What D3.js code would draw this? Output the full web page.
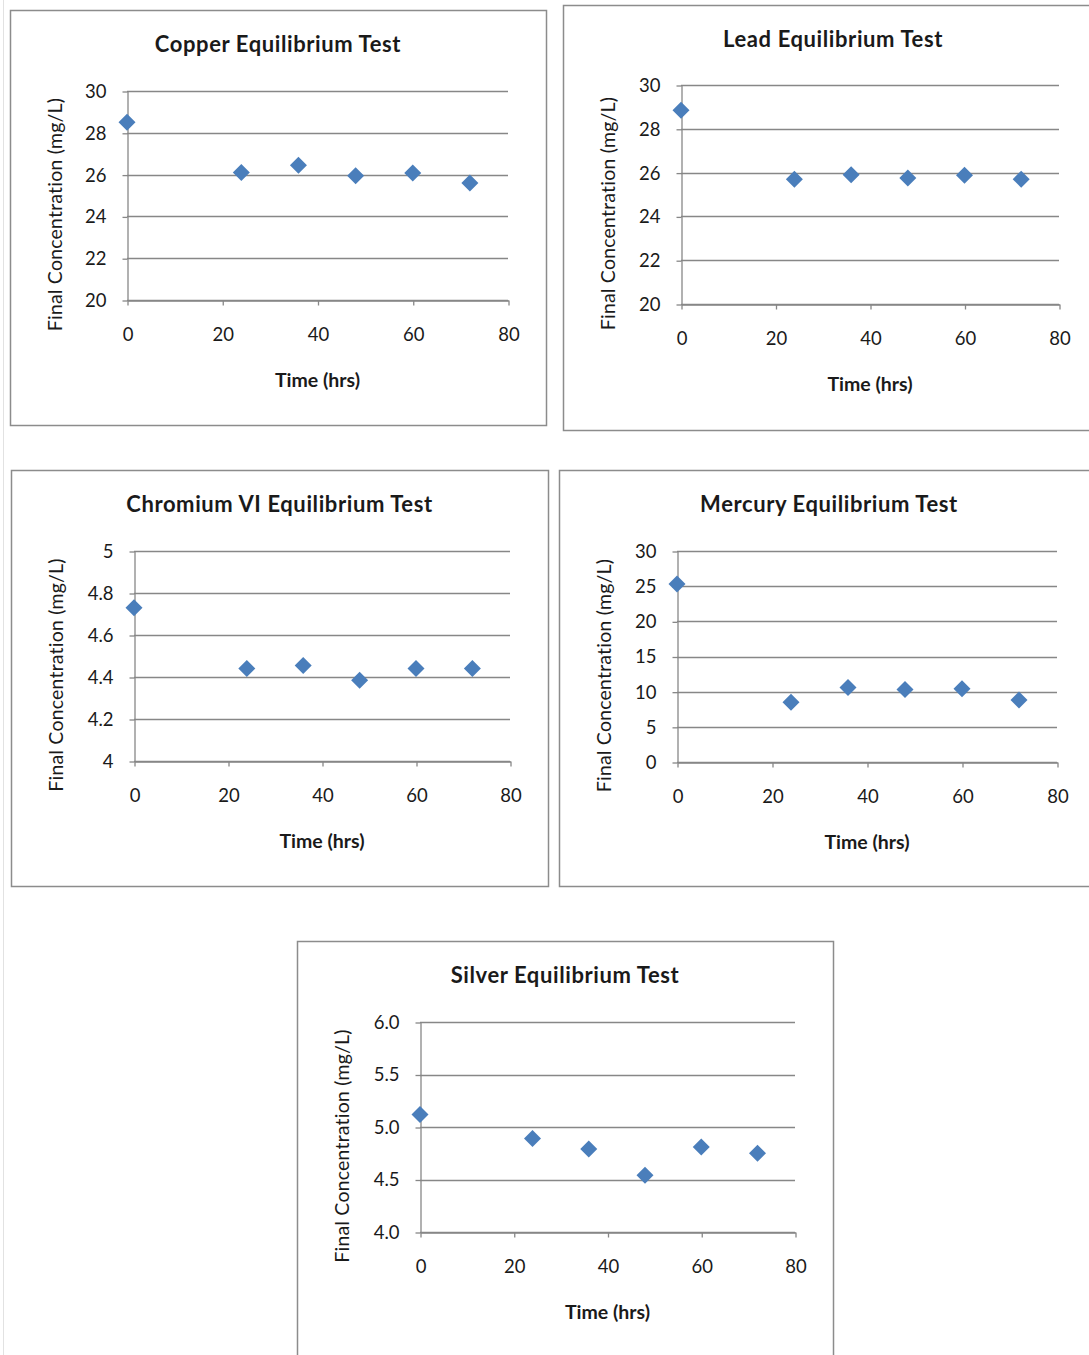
<!DOCTYPE html>
<html>
<head>
<meta charset="utf-8">
<script src="https://cdn.jsdelivr.net/npm/d3@7"></script>
<style>
    body { margin: 0; background: #fff; }
    svg text { font-family: Lato, "Open Sans", sans-serif; fill: #1a1a1a; }
    .grid line { stroke: #878787; stroke-width: 1.3; }
    .axis path, .axis line { stroke: #878787; stroke-width: 1.3; }
</style>
</head>
<body>
<div id="chart"></div>
<script>
// hours sampled in every test
var hours = [0, 24, 36, 48, 60, 72];
var xTicks = [0, 20, 40, 60, 80];

var copperValues = [28.5, 26.1, 26.45, 25.95, 26.08, 25.6];
var leadValues = [28.85, 25.7, 25.9, 25.75, 25.88, 25.7];
var chromiumValues = [4.73, 4.44, 4.455, 4.385, 4.44, 4.44];
var mercuryValues = [25.3, 8.5, 10.6, 10.3, 10.4, 8.8];
var silverValues = [5.12, 4.89, 4.79, 4.54, 4.81, 4.75];

var copperTicks = [20, 22, 24, 26, 28, 30];
var leadTicks = [20, 22, 24, 26, 28, 30];
var chromiumTicks = [4, 4.2, 4.4, 4.6, 4.8, 5];
var mercuryTicks = [0, 5, 10, 15, 20, 25, 30];
var silverTicks = [4.0, 4.5, 5.0, 5.5, 6.0];

var titles = ["Copper Equilibrium Test", "Lead Equilibrium Test", "Chromium VI Equilibrium Test",
    "Mercury Equilibrium Test", "Silver Equilibrium Test"];

document.addEventListener("DOMContentLoaded", function() {

    var width = 1089, height = 1355;

    var svg = d3.select("#chart").append("svg")
        .attr("width", width)
        .attr("height", height);

    // faint page edge on the left
    svg.append("line")
        .attr("x1", 3.5).attr("x2", 3.5)
        .attr("y1", 0).attr("y2", height)
        .style("stroke", "#e2e2e2");

    var panels = [
        { values: copperValues, ticks: copperTicks, fmt: d3.format("d"),
          frame: [10, 10, 536, 415], plot: [127, 508, 91, 300] },
        { values: leadValues, ticks: leadTicks, fmt: d3.format("d"),
          frame: [563, 5, 540, 425], plot: [681, 1059, 85, 304] },
        { values: chromiumValues, ticks: chromiumTicks, fmt: function(d) { return String(+d.toFixed(1)); },
          frame: [11, 470, 537, 416], plot: [134, 510, 551, 761] },
        { values: mercuryValues, ticks: mercuryTicks, fmt: d3.format("d"),
          frame: [559, 470, 540, 416], plot: [677, 1057, 551, 762] },
        { values: silverValues, ticks: silverTicks, fmt: d3.format(".1f"),
          frame: [297, 941, 536, 430], plot: [420, 795, 1022, 1232] }
    ];

    var diamond = "M0,-8.5L8.5,0L0,8.5L-8.5,0Z";

    panels.forEach(function(p, i) {
        var f = p.frame, pl = p.plot;
        var g = svg.append("g");

        g.append("rect")
            .attr("x", f[0] + 0.5).attr("y", f[1] + 0.5)
            .attr("width", f[2]).attr("height", f[3])
            .style("fill", "#fff")
            .style("stroke", "#8c8c8c")
            .style("stroke-width", 1.5);

        g.append("text")
            .attr("x", f[0] + f[2] / 2)
            .attr("y", f[1] + 34)
            .attr("text-anchor", "middle")
            .attr("dy", "0.35em")
            .style("font-size", "22px")
            .style("font-weight", "bold")
            .style("letter-spacing", "0.6px")
            .text(titles[i]);

        var x = d3.scaleLinear().domain([0, 80]).range([pl[0], pl[1]]);
        var y = d3.scaleLinear()
            .domain([d3.min(p.ticks), d3.max(p.ticks)])
            .range([pl[3], pl[2]]);

        // horizontal gridlines
        g.append("g")
            .attr("class", "grid")
            .selectAll("line")
            .data(p.ticks)
            .enter().append("line")
            .attr("x1", pl[0])
            .attr("x2", pl[1])
            .attr("y1", function(d) { return Math.round(y(d)) + 0.5; })
            .attr("y2", function(d) { return Math.round(y(d)) + 0.5; });

        var yAxis = g.append("g")
            .attr("class", "axis")
            .attr("transform", "translate(" + (Math.round(pl[0]) + 0.5) + ",0.5)")
            .call(d3.axisLeft(y).tickValues(p.ticks).tickFormat(p.fmt)
                .tickSizeInner(5).tickSizeOuter(0).tickPadding(16));
        yAxis.selectAll("text").style("font-size", "18.5px");

        var xAxis = g.append("g")
            .attr("class", "axis")
            .attr("transform", "translate(0.5," + (Math.round(pl[3]) + 0.5) + ")")
            .call(d3.axisBottom(x).tickValues(xTicks).tickFormat(d3.format("d"))
                .tickSizeInner(5).tickSizeOuter(0).tickPadding(22));
        xAxis.selectAll("text").style("font-size", "18.5px");

        g.append("text")
            .attr("x", (pl[0] + pl[1]) / 2)
            .attr("y", pl[3] + 80)
            .attr("dy", "0.35em")
            .attr("text-anchor", "middle")
            .style("font-size", "19.5px")
            .style("font-weight", "bold")
            .text("Time (hrs)");

        g.append("text")
            .attr("transform", "translate(" + (f[0] + 45) + "," + ((pl[2] + pl[3]) / 2 + 19) + ") rotate(-90)")
            .attr("dy", "0.35em")
            .attr("text-anchor", "middle")
            .style("font-size", "19.5px")
            .style("letter-spacing", "0.2px")
            .text("Final Concentration (mg/L)");

        g.selectAll(".dot")
            .data(p.values)
            .enter().append("path")
            .attr("d", diamond)
            .attr("transform", function(d, j) { return "translate(" + x(hours[j]) + "," + y(d) + ")"; })
            .style("fill", "#4a7ebb");
    });
});
</script>
</body>
</html>
